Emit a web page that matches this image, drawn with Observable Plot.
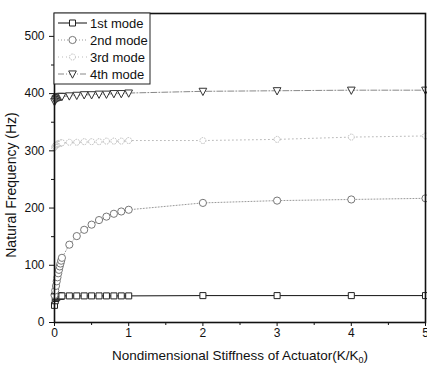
<!DOCTYPE html>
<html><head><meta charset="utf-8">
<script src="https://cdn.jsdelivr.net/npm/d3@7"></script>
<script src="https://cdn.jsdelivr.net/npm/@observablehq/plot@0.6"></script>
<style>body{margin:0;background:#fff} #chart{width:427px;height:374px}</style>
</head><body><div id="chart"></div>
<script>
// Data
const stiffness = [0, 0.01, 0.02, 0.03, 0.04, 0.05, 0.06, 0.07, 0.08, 0.09, 0.1, 0.2, 0.3, 0.4, 0.5, 0.6, 0.7, 0.8, 0.9, 1, 2, 3, 4, 5];
const mode1 = [30, 38, 42, 44, 45, 46, 46, 46, 46, 46, 46.5, 46.5, 46.5, 46.5, 46.5, 46.5, 46.5, 46.5, 46.5, 46.5, 47, 47, 47, 47];
const mode2 = [48, 56, 64, 72, 79, 86, 92, 98, 103, 108, 113, 136, 151, 162, 171, 179, 185, 190, 194, 197, 209, 213, 215, 217];
const mode3 = [306, 308, 310, 311, 312, 312, 313, 313, 313, 314, 314, 315, 315, 316, 316, 316, 317, 317, 317, 318, 318, 320, 324, 326];
const mode4 = [386, 389, 391, 392, 393, 394, 394, 395, 395, 395, 395, 396, 397, 398, 398, 399, 399, 400, 400, 401, 404, 405, 406, 406];
const modeNames = ["1st mode", "2nd mode", "3rd mode", "4th mode"];
const xTicks = [0, 1, 2, 3, 4, 5];
const yTicks = [0, 100, 200, 300, 400, 500];
const xMinor = [0.5, 1.5, 2.5, 3.5, 4.5];
const yMinor = [50, 150, 250, 350, 450];

const downTriangle = {
  draw(ctx, size) {
    const s = Math.sqrt(size) * 1.2;
    ctx.moveTo(-s / 2, -s * 0.4);
    ctx.lineTo(s / 2, -s * 0.4);
    ctx.lineTo(0, s * 0.55);
    ctx.closePath();
  }
};

const styles = [
  {stroke: "#111", dash: null, symbol: "square", r: 3.4, mstroke: "#222"},
  {stroke: "#999", dash: "1,2", symbol: "circle", r: 3.6, mstroke: "#777"},
  {stroke: "#bbb", dash: "1,3", symbol: "circle", r: 3.0, mstroke: "#bbb"},
  {stroke: "#888", dash: "6,2,1,2", symbol: downTriangle, r: 3.6, mstroke: "#333"}
];
const modes = [mode1, mode2, mode3, mode4];
const tables = modes.map((vals, k) => stiffness.map((x, i) => ({x, y: vals[i], mode: modeNames[k]})));

const marks = [];
tables.forEach((t, k) => {
  const s = styles[k];
  marks.push(Plot.line(t, {x: "x", y: "y", stroke: s.stroke, strokeWidth: 1, strokeDasharray: s.dash}));
});
tables.forEach((t, k) => {
  const s = styles[k];
  marks.push(Plot.dot(t, {x: "x", y: "y", symbol: () => s.symbol, r: s.r, stroke: s.mstroke, fill: "white", strokeWidth: 1, strokeDasharray: k === 2 ? "1.5,1" : null}));
});
marks.push(
  Plot.axisX(xTicks, {tickSize: 4, tickPadding: 2, label: null, fontSize: 12, tickFormat: d => d}),
  Plot.axisX(xMinor, {tickSize: 3, text: null, label: null}),
  Plot.axisY(yTicks, {tickSize: 5, tickPadding: 5, label: null, fontSize: 12, tickFormat: d => d}),
  Plot.axisY(yMinor, {tickSize: 3, text: null, label: null}),
  Plot.frame({stroke: "#111", strokeWidth: 1.6})
);

const chart = Plot.plot({
  width: 427, height: 374,
  marginLeft: 54, marginRight: 2, marginTop: 13, marginBottom: 52,
  x: {domain: [0, 5]},
  y: {domain: [0, 540]},
  style: {fontFamily: "'Liberation Sans', Arial, sans-serif", fontSize: "12px", color: "#111", background: "white"},
  marks
});

const svg = d3.select(chart);
// axis titles
svg.append("text")
  .attr("x", 240).attr("y", 360)
  .attr("text-anchor", "middle")
  .attr("font-size", 13.5)
  .attr("fill", "#111")
  .call(t => {
    t.append("tspan").text("Nondimensional Stiffness of Actuator(K/K");
    t.append("tspan").attr("font-size", 9).attr("dy", 3).text("0");
    t.append("tspan").attr("dy", -3).text(")");
  });
svg.append("text")
  .attr("transform", "translate(16,185) rotate(-90)")
  .attr("text-anchor", "middle")
  .attr("font-size", 14)
  .attr("fill", "#111")
  .text("Natural Frequency (Hz)");

// legend
const lg = svg.append("g").attr("text-anchor", "start");
lg.append("rect").attr("x", 54).attr("y", 13).attr("width", 96).attr("height", 71)
  .attr("fill", "white").attr("stroke", "#222").attr("stroke-width", 1);
modeNames.forEach((name, k) => {
  const s = styles[k];
  const yy = 23 + k * 17;
  lg.append("line").attr("x1", 58).attr("x2", 87).attr("y1", yy).attr("y2", yy)
    .attr("stroke", s.stroke).attr("stroke-dasharray", s.dash);
  const sym = typeof s.symbol === "string" ? (s.symbol === "square" ? d3.symbolSquare : d3.symbolCircle) : s.symbol;
  lg.append("path").attr("transform", `translate(72.5,${yy})`)
    .attr("d", d3.symbol(sym, Math.PI * s.r * s.r)())
    .attr("fill", "white").attr("stroke", s.mstroke)
    .attr("stroke-dasharray", k === 2 ? "1.5,1" : null);
  lg.append("text").attr("x", 90).attr("y", yy).attr("dy", "0.35em")
    .attr("text-anchor", "start")
    .attr("font-size", 13).attr("fill", "#111").text(name);
});

document.getElementById("chart").appendChild(chart);
</script>
</body></html>
